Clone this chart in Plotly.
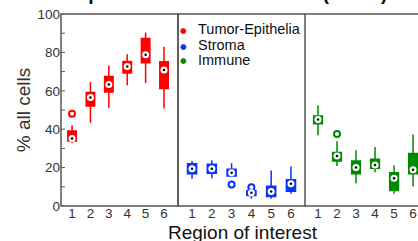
import plotly.graph_objects as go

regions = [1, 2, 3, 4, 5, 6]
region_labels = ["1", "2", "3", "4", "5", "6"]
groups = ["Tumor-Epithelia", "Stroma", "Immune"]
colors = ["#ff0000", "#0a32ff", "#008a00"]
y_tickvals = [0, 10, 20, 30, 40, 50, 60, 70, 80, 90, 100]
y_ticktext = ["0", "", "20", "", "40", "", "60", "", "80", "", "100"]

tumor_q1 = [33.8, 52.1, 59.4, 69.3, 74.6, 61.2]
tumor_med = [35.1, 56.5, 63.3, 72.7, 78.8, 70.8]
tumor_q3 = [39.1, 59.1, 67.5, 75.3, 87.3, 75.1]
tumor_lo = [32.8, 43.4, 51.1, 62.9, 64.1, 50.8]
tumor_hi = [42.0, 64.6, 73.2, 79.1, 90.4, 82.9]
tumor_out_x = [1]
tumor_out_y = [48.1]

stroma_q1 = [16.8, 17.1, 15.6, 5.5, 5.0, 7.7]
stroma_med = [19.4, 19.4, 17.3, 6.9, 7.6, 11.6]
stroma_q3 = [22.0, 21.7, 19.1, 8.1, 10.3, 13.7]
stroma_lo = [14.2, 14.4, 15.6, 3.8, 3.8, 6.4]
stroma_hi = [23.4, 23.8, 22.3, 8.1, 18.5, 20.6]
stroma_out_x = [3, 4]
stroma_out_y = [11.2, 9.8]

immune_q1 = [42.9, 23.4, 16.8, 19.7, 8.1, 16.8]
immune_med = [45.0, 26.0, 20.1, 21.3, 14.4, 18.9]
immune_q3 = [46.9, 27.8, 23.4, 24.3, 17.3, 27.3]
immune_lo = [36.8, 20.8, 11.9, 17.6, 6.4, 10.2]
immune_hi = [52.5, 33.7, 29.0, 30.7, 21.1, 37.3]
immune_out_x = [2]
immune_out_y = [37.5]

data = [
    (tumor_q1, tumor_med, tumor_q3, tumor_lo, tumor_hi, tumor_out_x, tumor_out_y),
    (stroma_q1, stroma_med, stroma_q3, stroma_lo, stroma_hi, stroma_out_x, stroma_out_y),
    (immune_q1, immune_med, immune_q3, immune_lo, immune_hi, immune_out_x, immune_out_y),
]

W, H = 418, 241
T, B = 14, 35
PH = H - T - B  # plot height in px


def py(p):
    """page pixel row -> paper y"""
    return (H - B - p) / PH


fig = go.Figure()

for i, (q1, med, q3, lo, hi, ox, oy) in enumerate(data):
    xa = "x" if i == 0 else f"x{i+1}"
    col = colors[i]
    fig.add_trace(go.Box(
        x=regions, q1=q1, median=med, q3=q3, lowerfence=lo, upperfence=hi,
        xaxis=xa, yaxis="y", fillcolor=col, line=dict(color=col, width=1.5),
        whiskerwidth=0, width=0.46, boxpoints=False, showlegend=False,
        hoverinfo="skip"))
    fig.add_trace(go.Scatter(
        x=ox, y=oy, xaxis=xa, yaxis="y", mode="markers", showlegend=False,
        marker=dict(symbol="circle-open", size=6, color=col, line=dict(width=2))))
    fig.add_trace(go.Scatter(
        x=regions, y=med, xaxis=xa, yaxis="y", mode="markers", showlegend=False,
        marker=dict(symbol="circle", size=7, color="white", line=dict(width=0))))
    fig.add_trace(go.Scatter(
        x=regions, y=med, xaxis=xa, yaxis="y", mode="markers", showlegend=False,
        marker=dict(symbol="circle", size=2.5, color="black", line=dict(width=0))))

axcol = "#555555"
font_family = "Liberation Sans, Arial"
tickfont = dict(family=font_family, size=13.5, color="#333333")
common_x = dict(
    tickmode="array", tickvals=regions, ticktext=region_labels, ticks="",
    showline=False, showgrid=False, zeroline=False, tickfont=tickfont, anchor="y",
    ticklabelstandoff=-3, ticklabeloverflow="allow")

shapes = []
for xa in ["x", "x2"]:
    shapes.append(dict(type="rect", xref=f"{xa} domain", yref="y domain",
                       x0=0, x1=1, y0=0, y1=1, line=dict(color=axcol, width=1.5),
                       fillcolor="rgba(0,0,0,0)", layer="above"))
for yy in [0, 1]:
    shapes.append(dict(type="line", xref="x3 domain", yref="y domain",
                       x0=0, x1=1, y0=yy, y1=yy, line=dict(color=axcol, width=1.5),
                       layer="above"))
# inward y ticks on the first panel
for v in y_tickvals:
    shapes.append(dict(type="line", xref="x domain", yref="y",
                       x0=0, x1=4 / 117, y0=v, y1=v, line=dict(color=axcol, width=1),
                       layer="above"))

annotations = [
    dict(text="Region of interest", xref="paper", yref="paper",
         x=243 / W, y=py(220), xanchor="center", yanchor="top", showarrow=False,
         font=dict(family=font_family, size=19, color="#111111")),
    dict(text="<b>B</b>", xref="paper", yref="paper",
         x=9 / W, y=py(6), xanchor="left", yanchor="bottom", showarrow=False,
         font=dict(family=font_family, size=19.5, color="#111111")),
    dict(text="<b>Composition across sections (CM04)</b>", xref="paper", yref="paper",
         x=43 / W, y=py(6), xanchor="left", yanchor="bottom", showarrow=False,
         font=dict(family=font_family, size=19.5, color="#111111")),
]
dot_y = [31, 46.5, 61]
text_y = [29.5, 45, 60]
for i, g in enumerate(groups):
    annotations.append(dict(text="●", xref="paper", yref="paper",
                            x=183.5 / W, y=py(dot_y[i]), xanchor="center", yanchor="middle",
                            showarrow=False, font=dict(family="DejaVu Sans", size=7.5, color=colors[i])))
    annotations.append(dict(text=g, xref="paper", yref="paper",
                            x=195.5 / W, y=py(text_y[i]), xanchor="left", yanchor="middle",
                            showarrow=False, font=dict(family=font_family, size=14.5, color="#111111")))

fig.update_layout(
    width=W, height=H,
    margin=dict(l=0, r=0, t=T, b=B),
    paper_bgcolor="white", plot_bgcolor="white",
    showlegend=False,
    xaxis=dict(domain=[61 / W, 178 / W], range=[0.40, 6.76], **common_x),
    xaxis2=dict(domain=[178 / W, 305 / W], range=[0.29, 6.71], **common_x),
    xaxis3=dict(domain=[305 / W, 1.0], range=[0.316, 6.26], **common_x),
    yaxis=dict(
        range=[0, 100], tickmode="array", tickvals=y_tickvals, ticktext=y_ticktext,
        ticks="", showline=False, showgrid=False, zeroline=False, tickfont=tickfont,
        ticklabeloverflow="allow",
        title=dict(text="% all cells", font=dict(family=font_family, size=19, color="#333333"), standoff=1),
    ),
    shapes=shapes,
    annotations=annotations,
)

fig.write_html("out.html", config={"displayModeBar": False},
               post_script="document.body.style.margin='0';")
